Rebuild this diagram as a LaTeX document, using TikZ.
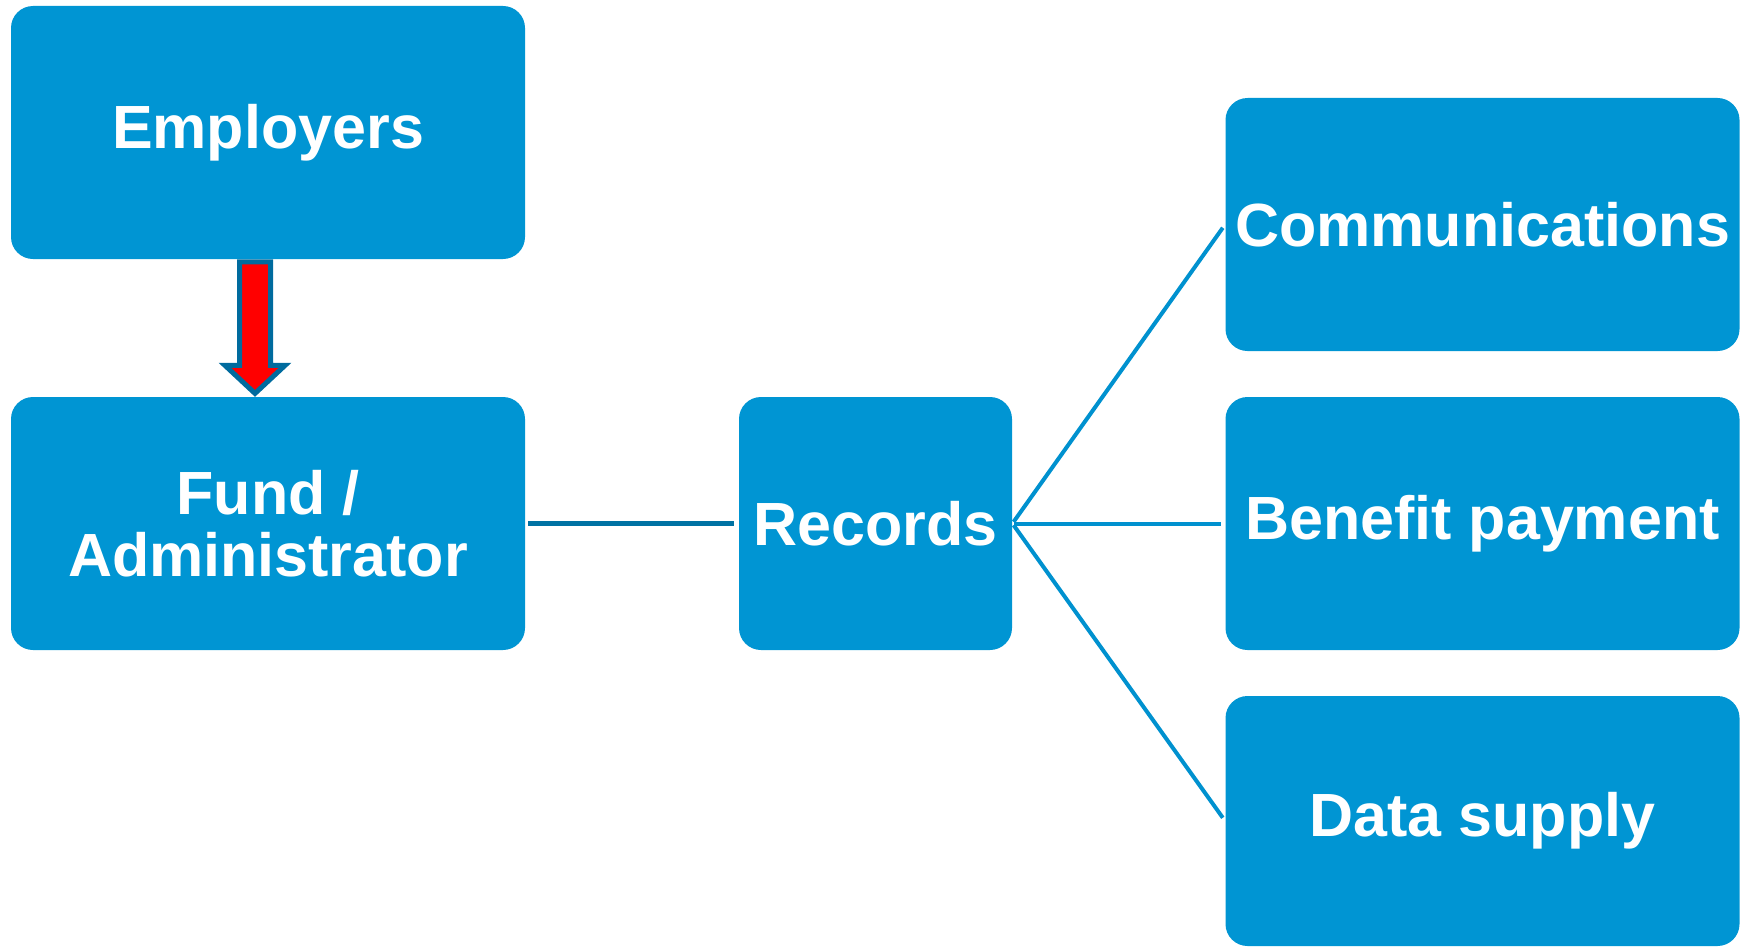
\documentclass[tikz,border=0pt]{standalone}
\usepackage{fontspec}
\setmainfont{Liberation Sans}
\usetikzlibrary{calc}
\definecolor{boxblue}{RGB}{0,149,211}
\definecolor{linkdark}{RGB}{0,114,163}
\definecolor{linklight}{RGB}{0,145,207}
\definecolor{arrowedge}{RGB}{0,107,158}
\tikzset{
  bluebox/.style={fill=boxblue, draw=none, rounded corners=11pt, inner sep=0pt,
    minimum width=257pt, minimum height=126.5pt, text=white, align=center,
    font=\fontsize{30.5}{31}\selectfont\bfseries},
  link/.style={line width=2.5pt, draw=linkdark},
  branch/.style={line width=2pt, draw=linklight, shorten <=1pt, shorten >=2pt},
  blockarrow/.style={fill=red, draw=arrowedge, line width=2.5pt, line join=miter}
}
\begin{document}
\begin{tikzpicture}[x=0.5pt,y=-0.5pt]
\useasboundingbox (0,0) rectangle (1748,947);
\node[bluebox] (emp) at (268,132.5) {Employers};
\node[bluebox] (fund) at (268,523.5) {Fund /\\Administrator};
\node[bluebox, minimum width=136.5pt] (rec) at (875.5,523.5) {Records};
\node[bluebox] (comm) at (1482.5,224.5) {Communications};
\node[bluebox] (ben) at (1482.5,523.5) {Benefit payment};
\node[bluebox, minimum height=125pt] (data) at (1482.5,821) {Data supply};
\draw[link, shorten <=1.5pt, shorten >=2.5pt] (fund.east) -- (rec.west);
\draw[branch] (rec.east) -- (comm.west);
\draw[branch] (rec.east) -- (ben.west);
\draw[branch] (rec.east) -- (data.west);
\coordinate (a) at ($(emp.south)+(-13,0)$);
\draw[blockarrow] ($(a)+(-15.5,2.5)$) -- ($(a)+(15.5,2.5)$) -- ($(a)+(15.5,106)$)
  -- ($(a)+(30,106)$) -- ($(a)+(0,134)$) -- ($(a)+(-30,106)$)
  -- ($(a)+(-15.5,106)$) -- cycle;
\end{tikzpicture}
\end{document}
